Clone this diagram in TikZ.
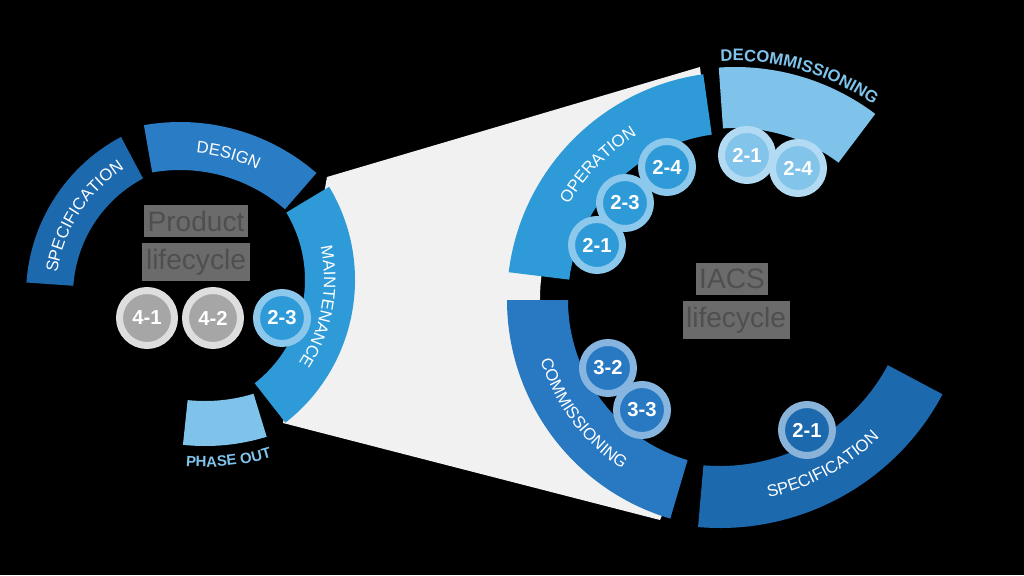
\documentclass[tikz,border=0pt]{standalone}
\usepackage{fontspec}
\setmainfont{Liberation Sans}
\usepackage{tikz}
\usetikzlibrary{calc}
\usetikzlibrary{decorations.text}

\definecolor{specblue}{HTML}{1D69AE}
\definecolor{designblue}{HTML}{2A7DC5}
\definecolor{opblue}{HTML}{2E9BD8}
\definecolor{commblue}{HTML}{2878C2}
\definecolor{paleblue}{HTML}{7FC3EA}
\definecolor{funnelgray}{HTML}{F1F1F1}
\definecolor{opring}{HTML}{8CC8EC}
\definecolor{commring}{HTML}{86B6E0}
\definecolor{specring}{HTML}{8AB3DA}
\definecolor{palering}{HTML}{B2DBF3}
\definecolor{palebubble}{HTML}{82C4EA}
\definecolor{geardisk}{HTML}{A6A6A6}
\definecolor{gearring}{HTML}{DEDEDE}
\definecolor{boxgray}{HTML}{6B6B6B}
\definecolor{titlegray}{HTML}{4F4F4F}

\newcommand{\bandlbl}{\fontsize{9.5}{11}\selectfont\color{white}}
\newcommand{\outlbl}{\fontsize{8.5}{10}\selectfont\bfseries\color{paleblue}}
\newcommand{\decolbl}{\fontsize{9.5}{11}\selectfont\bfseries\color{paleblue}}

\begin{document}
\begin{tikzpicture}[x=0.02cm,y=0.02cm]

\tikzstyle{bubble}=[circle,inner sep=0pt,minimum size=1.02cm,line width=0.14cm,text=white,font=\fontsize{11.5}{12}\selectfont\bfseries]
\tikzstyle{gear}=[bubble,minimum size=1.1cm,fill=geardisk,draw=gearring]
\tikzstyle{bandtext}=[decorate,decoration={text along path,text align=center}]
\tikzstyle{title}=[fill=boxgray,text=titlegray,inner xsep=2pt,minimum height=0.54cm,font=\fontsize{16}{18}\selectfont]

% BACKGROUND
\useasboundingbox (0,0) rectangle (1024,-575);
\fill[black] (0,0) rectangle (1024,-575);

% CENTRES
\coordinate (pm) at (174,-280);
\coordinate (pd) at (180,-330);
\coordinate (ps) at (205,-295);
\coordinate (pp) at (205,-235);
\coordinate (ia) at (735,-300);
\coordinate (is) at (720,-276);

% FUNNEL
\fill[funnelgray] (327,-177) -- (700,-67) -- ($(ia)+(99:195)$) arc[start angle=99,end angle=252,radius=195] -- (660,-520) -- (283,-423) -- cycle;

% PRODUCT LIFECYCLE
\fill[specblue] ($(ps)+(118:179)$) arc[start angle=118,end angle=176,radius=179] -- ($(ps)+(176:132)$) arc[start angle=176,end angle=118,radius=132] -- cycle;
\fill[designblue] ($(pd)+(49:208)$) arc[start angle=49,end angle=100,radius=208] -- ($(pd)+(100:160)$) arc[start angle=100,end angle=49,radius=160] -- cycle;
\fill[opblue] ($(pm)+(-52:181)$) arc[start angle=-52,end angle=31,radius=181] -- ($(pm)+(31:131)$) arc[start angle=31,end angle=-52,radius=131] -- cycle;
\fill[paleblue] ($(pp)+(-96:211)$) arc[start angle=-96,end angle=-73,radius=211] -- ($(pp)+(-73:166)$) arc[start angle=-73,end angle=-96,radius=166] -- cycle;

\path[bandtext,decoration={text={|\bandlbl|SPECIFICATION}}] ($(ps)+(176:149.5)$) arc[start angle=176,end angle=118,radius=149.5];
\path[bandtext,decoration={text={|\bandlbl|DESIGN}}] ($(pd)+(100:178)$) arc[start angle=100,end angle=49,radius=178];
\path[bandtext,decoration={text={|\bandlbl|MAINTENANCE}}] ($(pm)+(31:150)$) arc[start angle=31,end angle=-52,radius=150];
\path[bandtext,decoration={text={|\outlbl|PHASE OUT}}] ($(pp)+(-100:232)$) arc[start angle=-100,end angle=-68,radius=232];

\node (prod) [title] at (196,-221) {Product};
\node (prodlife) [title] at (196,-262) {lifecycle};

\node (p41) [gear] at (147,-318) {4-1};
\node (p42) [gear] at (213,-318) {4-2};
\node (p23) [bubble,fill=opblue,draw=opring] at (282,-318) {2-3};

% IACS LIFECYCLE
\fill[opblue] ($(ia)+(98:228)$) arc[start angle=98,end angle=173,radius=228] -- ($(ia)+(173:167)$) arc[start angle=173,end angle=98,radius=167] -- cycle;
\fill[commblue] ($(ia)+(180:228)$) arc[start angle=180,end angle=253.5,radius=228] -- ($(ia)+(253.5:167)$) arc[start angle=253.5,end angle=180,radius=167] -- cycle;
\fill[specblue] ($(is)+(-95:252)$) arc[start angle=-95,end angle=-28,radius=252] -- ($(is)+(-28:190)$) arc[start angle=-28,end angle=-95,radius=190] -- cycle;
\fill[paleblue] ($(ia)+(53:233)$) arc[start angle=53,end angle=94,radius=233] -- ($(ia)+(94:172)$) arc[start angle=94,end angle=53,radius=172] -- cycle;

\path[bandtext,decoration={text={|\bandlbl|OPERATION}}] ($(ia)+(173:191.5)$) arc[start angle=173,end angle=98,radius=191.5];
\path[bandtext,decoration={text={|\bandlbl|COMMISSIONING}}] ($(ia)+(180:203.5)$) arc[start angle=180,end angle=253.5,radius=203.5];
\path[bandtext,decoration={text={|\bandlbl|SPECIFICATION}}] ($(is)+(-95:227)$) arc[start angle=-95,end angle=-28,radius=227];
\path[bandtext,decoration={text={|\decolbl|DECOMMISSIONING}}] ($(ia)+(96:239)$) arc[start angle=96,end angle=52,radius=239];

\node (iacs) [title] at (732,-279) {IACS};
\node (iacslife) [title] at (736,-320) {lifecycle};

\node (o21) [bubble,fill=opblue,draw=opring] at (597,-245) {2-1};
\node (o23) [bubble,fill=opblue,draw=opring] at (625,-203) {2-3};
\node (o24) [bubble,fill=opblue,draw=opring] at (667,-167) {2-4};

\node (d21) [bubble,fill=palebubble,draw=palering] at (747,-155) {2-1};
\node (d24) [bubble,fill=palebubble,draw=palering] at (798,-168) {2-4};

\node (c32) [bubble,fill=commblue,draw=commring] at (608,-368) {3-2};
\node (c33) [bubble,fill=commblue,draw=commring] at (642,-410) {3-3};

\node (s21) [bubble,fill=specblue,draw=specring] at (807,-430) {2-1};

\end{tikzpicture}
\end{document}
